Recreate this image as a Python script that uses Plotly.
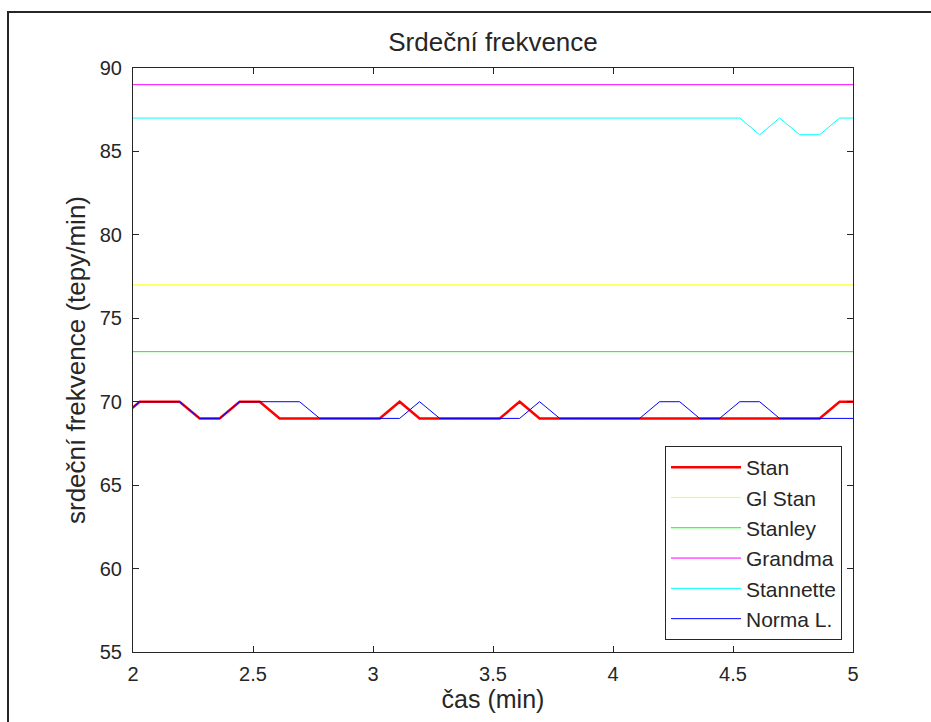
import plotly.graph_objects as go

# Sampling times (min), one reading every 5 s
cas = [1.944, 2.028, 2.111, 2.194, 2.278, 2.361, 2.444, 2.528, 2.611, 2.694,
       2.778, 2.861, 2.944, 3.028, 3.111, 3.194, 3.278, 3.361, 3.444, 3.528,
       3.611, 3.694, 3.778, 3.861, 3.944, 4.028, 4.111, 4.194, 4.278, 4.361,
       4.444, 4.528, 4.611, 4.694, 4.778, 4.861, 4.944, 5.028]

# Heart rate readings (beats/min)
stan = [69, 70, 70, 70, 69, 69, 70, 70, 69, 69,
        69, 69, 69, 69, 70, 69, 69, 69, 69, 69,
        70, 69, 69, 69, 69, 69, 69, 69, 69, 69,
        69, 69, 69, 69, 69, 69, 70, 70]
gl_stan = [77] * len(cas)
stanley = [73] * len(cas)
grandma = [89] * len(cas)
stannette = [87, 87, 87, 87, 87, 87, 87, 87, 87, 87,
             87, 87, 87, 87, 87, 87, 87, 87, 87, 87,
             87, 87, 87, 87, 87, 87, 87, 87, 87, 87,
             87, 87, 86, 87, 86, 86, 87, 87]
norma = [69, 70, 70, 70, 69, 69, 70, 70, 70, 70,
         69, 69, 69, 69, 69, 70, 69, 69, 69, 69,
         69, 70, 69, 69, 69, 69, 69, 70, 70, 69,
         69, 70, 70, 69, 69, 69, 69, 69]

series = [
    ("Stan", stan, "#FF0000", 2.5),
    ("Gl Stan", gl_stan, "#FFFF00", 1),
    ("Stanley", stanley, "#00FF00", 1),
    ("Grandma", grandma, "#FF00FF", 1),
    ("Stannette", stannette, "#00FFFF", 1),
    ("Norma L.", norma, "#0000FF", 1),
]

x_ticks = [2, 2.5, 3, 3.5, 4, 4.5, 5]
y_ticks = [55, 60, 65, 70, 75, 80, 85, 90]

FONT = "Liberation Sans, Arial, sans-serif"
INK = "#262626"

fig = go.Figure()
for name, vals, color, w in series:
    fig.add_trace(go.Scatter(x=cas, y=vals, mode="lines", name=name,
                             line=dict(color=color, width=w)))

axis_common = dict(showgrid=False, zeroline=False, showline=True,
                   linecolor=INK, linewidth=1, mirror="allticks",
                   ticks="inside", ticklen=6, tickcolor=INK,
                   tickfont=dict(family=FONT, size=20, color=INK))

fig.update_xaxes(range=[2, 5], tickvals=x_ticks,
                 ticktext=[f"{v:g}" for v in x_ticks],
                 ticklabelstandoff=4,
                 title=dict(text="čas (min)", standoff=6,
                            font=dict(family=FONT, size=25, color=INK)),
                 **axis_common)
fig.update_yaxes(range=[55, 90], tickvals=y_ticks,
                 ticklabelstandoff=6,
                 title=dict(text="srdeční frekvence (tepy/min)", standoff=6,
                            font=dict(family=FONT, size=26, color=INK)),
                 **axis_common)

W, H = 931, 722
L, R, T, B = 133, 78, 68, 70
pw, ph = W - L - R, H - T - B

# Figure frame
fig.add_shape(type="rect", xref="paper", yref="paper",
              x0=(8 - L) / pw, x1=(W + 10 - L) / pw,
              y0=(H - B - (H + 10)) / ph, y1=(H - B - 12) / ph,
              line=dict(color=INK, width=2), fillcolor="rgba(0,0,0,0)",
              layer="below")

fig.update_layout(
    width=W, height=H,
    margin=dict(l=L, r=R, t=T, b=B),
    paper_bgcolor="white", plot_bgcolor="white",
    title=dict(text="Srdeční frekvence", x=493 / W, xanchor="center",
               y=1 - 42 / H, yanchor="middle",
               font=dict(family=FONT, size=26, color=INK)),
    legend=dict(x=(842 - L) / pw, xanchor="right",
                y=(H - B - 640) / ph, yanchor="bottom",
                bgcolor="white", bordercolor=INK, borderwidth=1,
                font=dict(family=FONT, size=21, color=INK),
                itemwidth=70, tracegroupgap=0),
    showlegend=True,
)

fig.write_html("out.html")
